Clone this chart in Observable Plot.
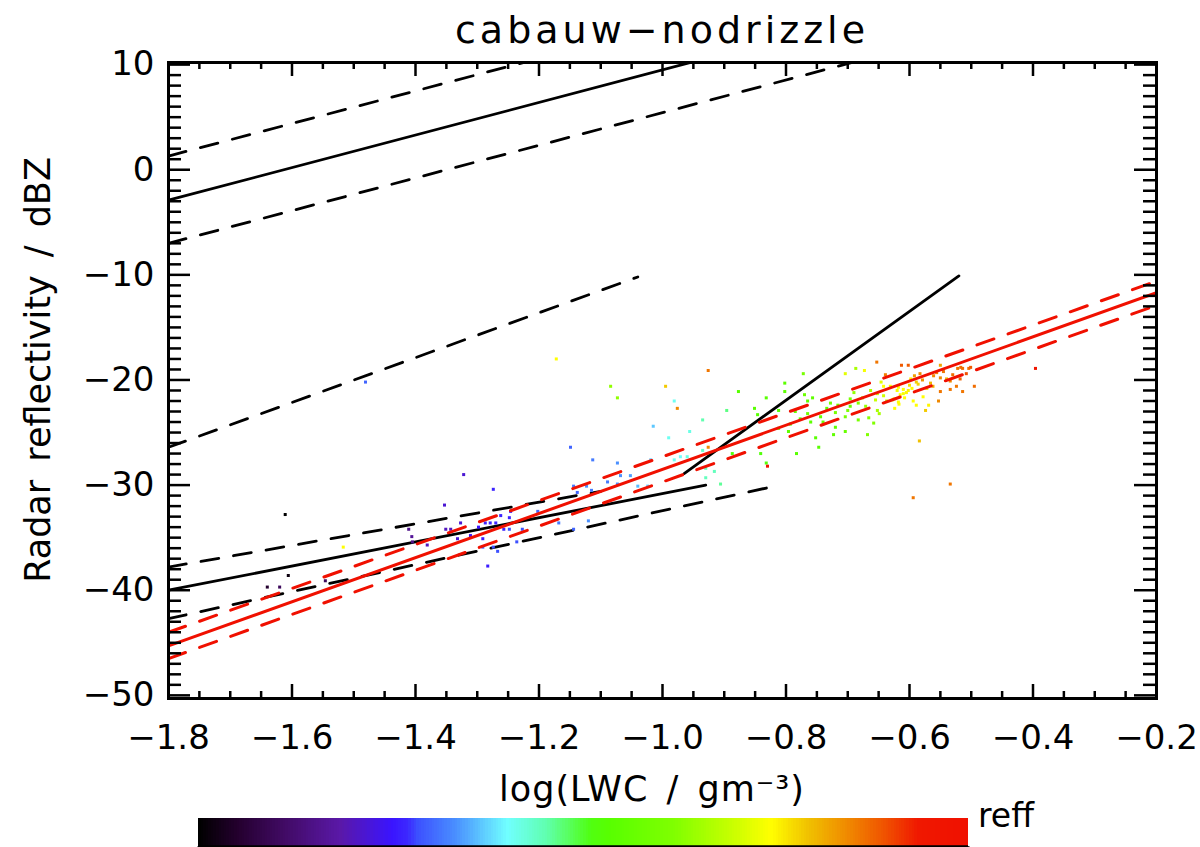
<!DOCTYPE html>
<html>
<head>
<meta charset="utf-8">
<script src="https://cdn.jsdelivr.net/npm/d3@7"></script>
<script src="https://cdn.jsdelivr.net/npm/@observablehq/plot@0.6"></script>
<style>
  body { margin: 0; background: #fff; }
  #wrap { position: relative; width: 1200px; height: 847px; overflow: hidden; background: #fff; font-family: "DejaVu Sans", sans-serif; color: #000; }
  .abs { position: absolute; white-space: nowrap; line-height: 1; }
  #title { left: 662px; top: 11px; font-size: 38px; letter-spacing: 4px; transform: translateX(-50%); }
  #ylab { left: 38px; top: 370px; font-size: 35px; word-spacing: 7px; transform: translate(-50%, -50%) rotate(-90deg); }
  #xlab { left: 652px; top: 789px; font-size: 35px; letter-spacing: 1px; word-spacing: 6px; transform: translate(-50%, -50%); }
  #reff { left: 978px; top: 799px; font-size: 33px; }
  #main { position: absolute; left: 0; top: 0; }
  #cbar { position: absolute; left: 0; top: 817px; }
</style>
</head>
<body>
<div id="wrap">
  <div id="main"></div>
  <div id="cbar"></div>
  <div class="abs" id="title">cabauw−nodrizzle</div>
  <div class="abs" id="ylab">Radar reflectivity / dBZ</div>
  <div class="abs" id="xlab">log(LWC / gm⁻³)</div>
  <div class="abs" id="reff">reff</div>
</div>
<script>
// ---- axes ----
const xDomain = [-1.8, -0.2];
const yDomain = [-50.3, 10.2];
const xMajor = [-1.8, -1.6, -1.4, -1.2, -1.0, -0.8, -0.6, -0.4, -0.2];
const yMajor = [-50, -40, -30, -20, -10, 0, 10];

// ---- fitted relations (log LWC, dBZ) ----
const upperSolid  = [[-1.80, -2.9], [-0.90, 11.05]];
const upperDashHi = [[-1.80, 1.3], [-1.18, 10.9]];
const upperDashLo = [[-1.80, -7.0], [-0.68, 10.4]];
const midDash     = [[-1.80, -26.4], [-1.04, -10.2]];
const lowerSolid  = [[-1.80, -40.0], [-0.93, -30.0]];
const lowerDashHi = [[-1.80, -37.8], [-1.10, -30.6]];
const lowerDashLo = [[-1.80, -42.7], [-0.81, -30.0]];
const steepSolid  = [[-0.965, -28.9], [-0.52, -10.1]];
const redSolid    = [[-1.80, -45.3], [-0.20, -11.7]];
const redDashHi   = [[-1.80, -44.0], [-0.20, -10.6]];
const redDashLo   = [[-1.80, -46.5], [-0.20, -12.9]];

// ---- observations ----
const lwc = [-1.113,-1.322,-1.274,-1.353,-1.144,-1.123,-1.115,-1.138,-1.202,-1.246,-1.248,-1.262,-1.327,-1.298,-1.287,-1.279,-1.270,-1.351,-1.343,-1.257,-1.248,-1.227,-1.168,-1.144,-1.120,-1.411,-1.406,-1.332,-1.311,-1.291,-1.236,-1.405,-1.381,-1.291,-1.274,-1.267,-1.283,-1.611,-1.517,-1.606,-1.640,-1.620,-1.546,
 -1.149,-1.073,-1.019,-0.981,-0.971,-0.960,-1.068,-1.052,-1.089,-1.073,-1.040,-1.024,-1.015,-0.981,-0.990,-0.956,-0.935,-0.896,-0.935,-0.930,-0.916,-0.930,-0.906,
 -1.084,-1.073,-0.995,-0.926,-0.976,-0.926,-0.877,-0.851,-0.846,-0.832,-0.802,-0.802,-0.812,-0.772,-0.765,-0.757,-0.752,-0.747,-0.783,-0.723,-0.704,-0.668,-0.683,-0.658,-0.832,-0.830,-0.841,-0.887,
 -0.687,-0.673,-0.704,-0.653,-0.613,-0.602,-0.550,-0.522,-0.514,-0.504,-0.396,-0.584,-0.534,-0.594,-0.574,-0.589,-0.569,-0.553,-0.550,-0.514,-0.495,-0.524,-0.534,-0.618,-0.608,-0.624,-0.594,-0.618,-0.610,-0.602,-0.610,
 -0.561,-0.550,-0.540,-0.534,-0.517,-0.501,-0.639,-0.598,-0.589,-0.579,-0.642,-0.631,-0.663,-0.652,-0.642,-0.696,-0.683,-0.671,-0.652,-0.649,-0.765,-0.744,-0.720,-0.704,-0.734,-0.793,-0.777,-0.720,-0.696,-1.172,-1.481,
 -0.615,-0.605,-0.596,-0.586,-0.578,-0.566,-0.556,-0.545,-0.628,-0.620,-0.600,-0.592,-0.583,-0.572,-0.562,-0.655,-0.646,-0.637,-0.625,-0.617,-0.700,-0.690,-0.676,-0.666,-0.740,-0.728,-0.716,-0.812,-0.796,-0.785,-0.770,-0.760,-0.530,-0.518,-0.508];
const dbz = [-27.6,-29.0,-30.4,-31.9,-30.1,-30.1,-30.5,-30.7,-32.5,-32.5,-33.1,-32.9,-33.6,-34.0,-33.6,-33.6,-33.6,-34.2,-34.2,-34.2,-34.2,-34.2,-33.6,-34.2,-33.4,-34.2,-34.9,-35.1,-34.8,-35.1,-35.4,-35.4,-35.7,-35.9,-35.9,-36.3,-37.7,-32.8,-35.9,-38.6,-39.7,-39.7,-39.1,
 -26.4,-27.9,-27.6,-27.6,-27.3,-27.3,-29.1,-29.1,-29.7,-29.9,-30.1,-30.1,-24.4,-22.0,-25.5,-24.9,-23.8,-22.9,-26.7,-28.4,-28.7,-29.3,-29.9,
 -20.6,-21.7,-20.6,-19.1,-22.7,-26.4,-21.1,-22.7,-23.3,-21.7,-20.3,-21.1,-22.9,-19.4,-22.0,-21.7,-25.5,-26.4,-27.0,-25.2,-24.9,-25.2,-23.8,-24.1,-27.9,-28.2,-27.0,-27.0,
 -18.9,-19.1,-19.4,-18.3,-18.6,-18.6,-18.6,-18.9,-18.9,-18.9,-18.9,-25.8,-29.9,-31.2,-22.9,-22.4,-22.4,-22.0,-21.1,-21.1,-20.6,-20.6,-20.9,-22.1,-21.7,-22.7,-22.0,-20.7,-20.9,-21.0,-21.3,
 -19.6,-19.8,-19.9,-20.1,-18.8,-18.8,-19.5,-19.9,-20.2,-20.0,-20.6,-20.6,-21.0,-21.3,-21.5,-21.8,-22.2,-22.5,-22.9,-23.2,-23.2,-23.5,-23.1,-23.5,-22.7,-24.2,-23.7,-24.5,-22.5,-18.0,-20.2,
 -21.4,-21.2,-20.8,-20.4,-21.6,-20.3,-19.3,-19.2,-21.9,-21.0,-20.5,-19.6,-19.4,-20.8,-20.6,-21.9,-20.2,-22.0,-21.8,-22.3,-22.9,-21.2,-21.7,-23.6,-24.0,-22.2,-22.4,-24.6,-24.9,-23.0,-21.4,-24.0,-19.5,-19.9,-19.4];
const reff = [5.8,4.6,5.2,4.6,5.8,6.0,5.8,5.6,5.6,5.2,5.2,5.2,4.6,5.0,5.2,5.2,5.2,4.4,4.4,5.2,5.4,5.4,5.8,5.6,6.0,3.8,4.0,4.6,4.9,5.1,5.4,3.8,4.4,5.6,5.4,5.4,5.1,2.0,10.9,2.2,2.6,3.2,3.2,
 5.6,6.0,6.4,6.9,6.8,7.0,6.0,6.1,5.8,6.0,6.3,6.4,6.4,6.9,6.9,7.0,7.4,7.6,7.2,7.3,7.3,7.3,7.5,
 9.6,9.6,11.4,12.3,12.1,12.1,8.4,8.4,8.4,8.4,8.5,8.5,8.4,9.2,8.6,8.6,8.4,8.4,8.4,8.6,8.8,9.4,9.2,9.4,8.2,13.5,8.2,8.2,
 9.9,10.8,10.6,12.3,12.6,12.6,11.8,12.3,12.4,12.4,13.4,11.5,12.3,12.3,11.4,10.9,11.0,12.1,12.3,12.3,12.4,12.3,12.3,10.9,10.9,10.9,10.9,10.9,10.9,11.0,10.8,
 12.1,12.1,11.6,12.1,12.4,12.6,12.2,11.0,11.4,12.0,10.9,10.9,10.0,10.2,10.4,9.2,9.4,9.7,9.9,9.9,9.0,8.7,9.2,9.2,8.6,8.4,8.4,8.6,8.7,10.9,5.6,
 10.9,11.0,10.9,11.3,10.9,11.6,12.2,12.3,10.9,10.8,11.2,11.9,12.1,11.3,11.7,10.3,10.6,10.2,10.7,10.9,9.3,9.6,9.9,9.5,8.8,9.1,9.0,8.5,8.6,8.7,8.9,8.5,12.4,12.5,12.7];

// ---- colour bar (reff) ----
const reffDomain = [2, 14];
const reffTicks = [2, 4, 6, 8, 10, 12, 14];
const cmapStops  = [2.0, 2.6, 3.3, 4.2, 5.0, 5.25, 5.4, 6.0, 6.8, 7.4, 8.1, 8.4, 9.4, 10.4, 10.9, 11.5, 12.2, 12.7, 13.2, 14.0];
const cmapColors = ["#000000","#24002e","#400a62","#5a18a8","#3a14ff","#3c28ff","#3c50ff","#4a90ff","#70ffff","#60ffb0","#50ff10","#58ff00","#80ff00","#d0ff00","#ffff00","#f0c000","#f08000","#f05000","#f01800","#f01000"];

const points = lwc.map((x, i) => ({x, y: dbz[i], r: reff[i]}));
const colorScale = {type: "linear", domain: cmapStops, range: cmapColors};

const W = 1200, H = 810;
const mL = 168, mR = 44, mT = 62, mB = 112;
const fw = W - mL - mR, fh = H - mT - mB;

const xMinor = d3.range(-1.8, -0.2 + 1e-9, 0.05).map(v => +v.toFixed(2)).filter(v => !xMajor.some(m => Math.abs(m - v) < 1e-6));
const yMinor = d3.range(-50, 11, 1).filter(v => v % 10 !== 0);

const lineOpts = (extra) => Object.assign({x: d => d[0], y: d => d[1], stroke: "black", strokeWidth: 2.8, clip: true}, extra);
const dash = "18,15";

const main = Plot.plot({
  width: W, height: H,
  marginLeft: mL, marginRight: mR, marginTop: mT, marginBottom: mB,
  style: {fontFamily: "DejaVu Sans", fontSize: "34px", color: "black", background: "white"},
  x: {domain: xDomain},
  y: {domain: yDomain},
  color: colorScale,
  marks: [
    Plot.line(upperSolid, lineOpts({})),
    Plot.line(upperDashHi, lineOpts({strokeDasharray: dash})),
    Plot.line(upperDashLo, lineOpts({strokeDasharray: dash})),
    Plot.line(midDash, lineOpts({strokeDasharray: dash})),
    Plot.line(lowerSolid, lineOpts({})),
    Plot.line(lowerDashHi, lineOpts({strokeDasharray: dash})),
    Plot.line(lowerDashLo, lineOpts({strokeDasharray: dash})),
    Plot.line(steepSolid, lineOpts({})),
    Plot.dot(points, {x: "x", y: "y", fill: "r", symbol: "square", r: 1.7, stroke: null}),
    Plot.line(redDashHi, lineOpts({stroke: "#f01000", strokeDasharray: dash, strokeWidth: 3})),
    Plot.line(redDashLo, lineOpts({stroke: "#f01000", strokeDasharray: dash, strokeWidth: 3})),
    Plot.line(redSolid, lineOpts({stroke: "#f01000", strokeWidth: 3})),
    // ticks, inward on all four sides
    Plot.tickX(xMinor, {x: d => d, insetTop: fh - 7, strokeWidth: 2.5}),
    Plot.tickX(xMinor, {x: d => d, insetBottom: fh - 7, strokeWidth: 2.5}),
    Plot.tickX(xMajor, {x: d => d, insetTop: fh - 14, strokeWidth: 2.5}),
    Plot.tickX(xMajor, {x: d => d, insetBottom: fh - 14, strokeWidth: 2.5}),
    Plot.tickY(yMinor, {y: d => d, insetRight: fw - 13, strokeWidth: 2.5}),
    Plot.tickY(yMinor, {y: d => d, insetLeft: fw - 13, strokeWidth: 2.5}),
    Plot.tickY(yMajor, {y: d => d, insetRight: fw - 22, strokeWidth: 2.5}),
    Plot.tickY(yMajor, {y: d => d, insetLeft: fw - 22, strokeWidth: 2.5}),
    Plot.frame({stroke: "black", strokeWidth: 3}),
    Plot.axisX({ticks: xMajor, tickSize: 0, tickPadding: 26, label: null,
      tickFormat: d => d.toFixed(1).replace("-", "\u2212")}),
    Plot.axisY({ticks: yMajor, tickSize: 0, tickPadding: 14, label: null,
      tickFormat: d => String(d).replace("-", "\u2212")})
  ]
});
document.getElementById("main").appendChild(main);

// colour bar
const step = 0.04;
const ramp = d3.range(reffDomain[0], reffDomain[1], step);
const cbar = Plot.plot({
  width: W, height: 40,
  marginLeft: 198, marginRight: 232, marginTop: 1, marginBottom: 0,
  x: {domain: reffDomain, axis: null},
  y: {domain: [-10 / 26, 1], axis: null},
  color: colorScale,
  marks: [
    Plot.rect(ramp, {x1: d => d, x2: d => Math.min(d + step * 2, reffDomain[1]), y1: 0, y2: 1, fill: d => d, shapeRendering: "crispEdges"}),
    Plot.ruleY([0], {stroke: "black", strokeWidth: 3}),
    Plot.ruleX(reffTicks, {x: d => d, y1: 0, y2: -10 / 26, stroke: "black", strokeWidth: 2})
  ]
});
document.getElementById("cbar").appendChild(cbar);
</script>
</body>
</html>
